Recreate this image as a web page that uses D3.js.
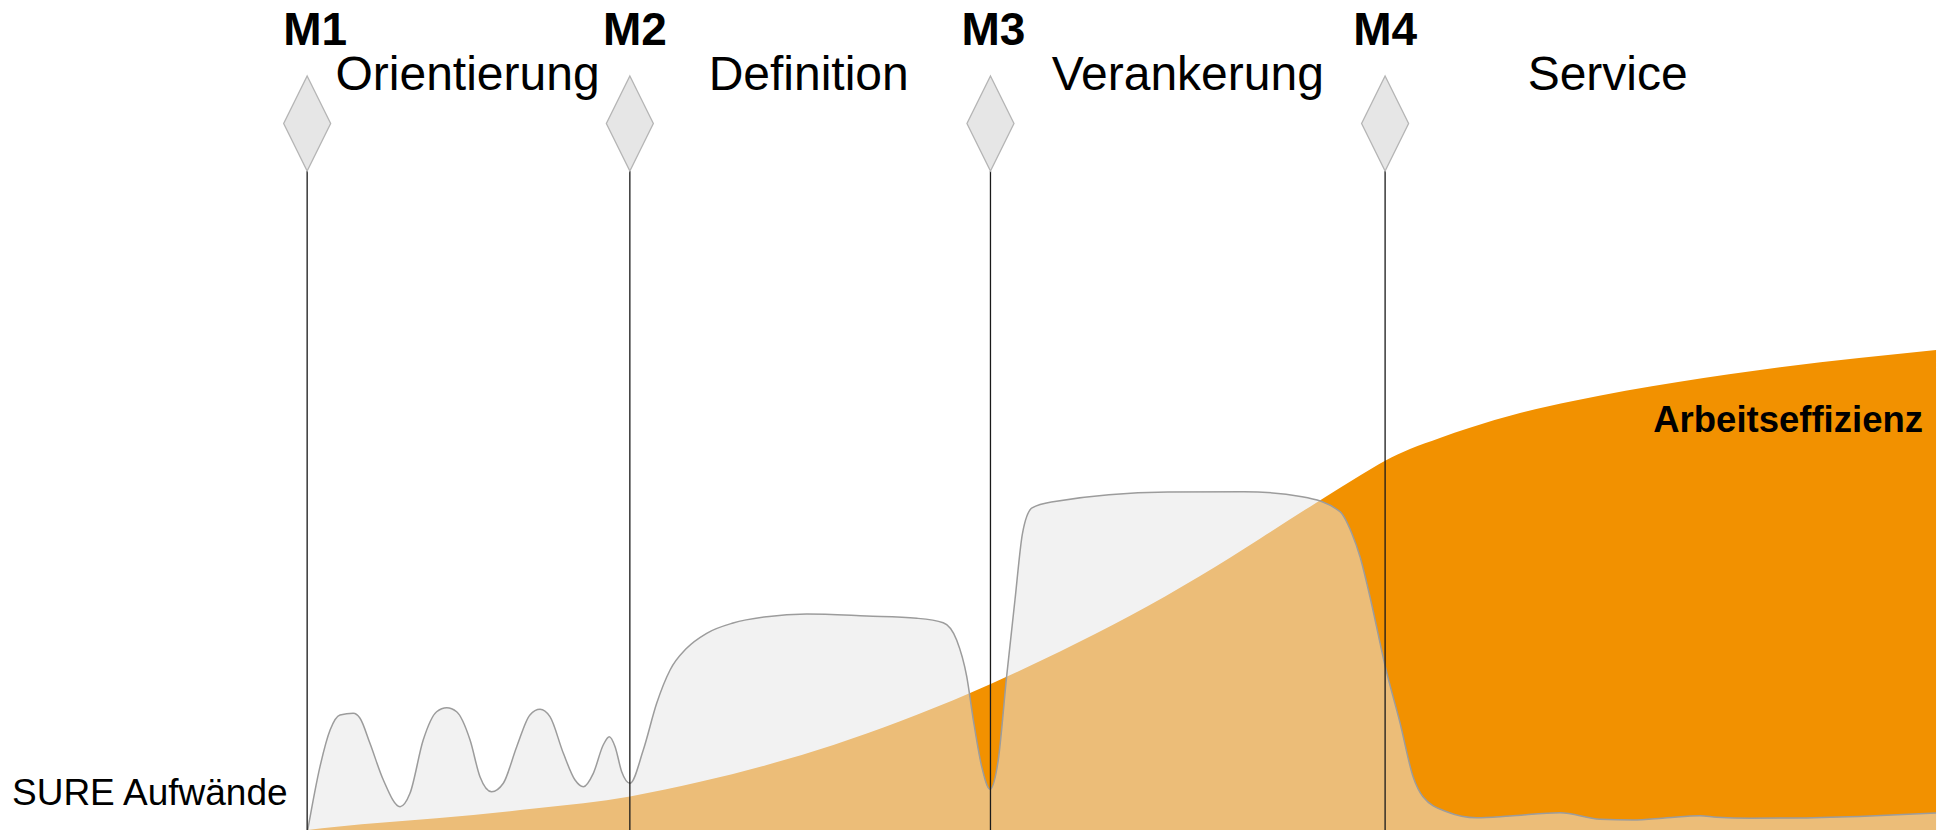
<!DOCTYPE html>
<html>
<head>
<meta charset="utf-8">
<script src="https://cdn.jsdelivr.net/npm/d3@7/dist/d3.min.js"></script>
<style>
  html, body { margin: 0; padding: 0; background: #ffffff; }
  svg { display: block; }
  text { font-family: "Liberation Sans", Arial, Helvetica, sans-serif; }
</style>
</head>
<body>
<svg id="chart" width="1944" height="830"></svg>
<script>
// ---------- DATA ----------
// Milestones (position on timeline, 0..100)
const milestoneNames = ["M1", "M2", "M3", "M4"];
const milestonePos   = [15.8, 32.4, 50.95, 71.25];

// Phases (label and label centre on timeline)
const phaseNames = ["Orientierung", "Definition", "Verankerung", "Service"];
const phaseCenters = [24.05, 41.6, 61.1, 82.7];

// Series 1: Arbeitseffizienz (orange area) [time, level]
const effizienzX = [15.82, 17.32, 22.46, 27.61, 32.41, 36.01, 39.44, 42.87, 46.30, 49.90, 50.96,
  54.53, 58.13, 61.73, 64.81, 67.75, 69.96, 71.25, 72.53, 74.07, 75.57, 78.19, 80.92, 86.32, 91.67, 99.59];
const effizienzY = [0, 0.40, 1.41, 2.61, 4.04, 5.80, 7.84, 10.25, 13.1, 16.5, 17.6,
  21.5, 25.8, 30.6, 35.1, 39.5, 42.7, 44.5, 45.9, 47.23, 48.43, 50.24, 51.69, 53.98, 55.78, 57.83];

// Series 2: SURE Aufwände (grey area) [time, level]
const aufwandX = [15.83, 16.46, 16.98, 17.49, 18.17, 18.52, 19.03, 19.72, 20.58, 21.09, 21.77, 22.46, 22.98,
  23.49, 24.18, 24.69, 25.29, 25.89, 26.58, 27.26, 27.78, 28.29, 28.98, 29.58, 30.01, 30.52, 31.03, 31.34,
  31.64, 31.98, 32.41, 33.09, 33.78, 34.47, 35.32, 36.35, 37.71, 39.44, 41.50, 44.58, 47.16, 48.52, 49.21,
  49.73, 50.07, 50.50, 50.93, 51.35, 51.78, 52.21, 52.60, 53.09, 54.17, 60.08, 63.99, 66.98, 68.93, 69.53,
  69.96, 70.51, 71.26, 72.02, 72.69, 73.20, 74.42, 75.96, 77.67, 80.25, 82.30, 84.00, 85.75, 87.45, 88.31,
  90.02, 92.59, 96.19, 99.59];
const aufwandY = [0, 7.63, 12.05, 13.86, 14.06, 13.46, 10.45, 6.02, 2.81, 4.42, 10.84, 14.25, 14.73,
  14.25, 10.84, 6.42, 4.61, 5.63, 10.04, 13.86, 14.54, 13.65, 9.24, 6.02, 5.22, 6.83, 10.24, 11.24,
  10.04, 7.02, 5.63, 9.64, 15.27, 19.28, 21.89, 23.70, 24.94, 25.70, 26.02, 25.78, 25.51, 24.98, 22.89,
  18.47, 13.25, 7.63, 4.90, 8.43, 18.47, 27.71, 35.78, 38.80, 39.55, 40.72, 40.76, 40.16, 38.35, 35.78,
  32.93, 27.71, 19.67, 12.89, 6.42, 4.01, 2.20, 1.48, 1.69, 2.08, 1.29, 1.20, 1.48, 1.72, 1.53,
  1.41, 1.45, 1.69, 2.05];

const seriesLabels = ["SURE Aufwände", "Arbeitseffizienz"];

// ---------- CHART ----------
const W = 1944, H = 830;
const svg = d3.select("#chart");

const x = d3.scaleLinear().domain([0, 100]).range([0, W]);
const y = d3.scaleLinear().domain([0, 100]).range([H, 0]);

const effData = effizienzX.map((v, i) => [v, effizienzY[i]]);
const aufData = aufwandX.map((v, i) => [v, aufwandY[i]]);

const area = d3.area()
  .x(d => x(d[0])).y0(y(0)).y1(d => y(d[1]))
  .curve(d3.curveMonotoneX);
const line = d3.line()
  .x(d => x(d[0])).y(d => y(d[1]))
  .curve(d3.curveMonotoneX);

// Orange area
svg.append("path").datum(effData)
  .attr("d", area)
  .attr("fill", "#F29100");

// Grey area (semi-transparent)
svg.append("path").datum(aufData)
  .attr("d", area)
  .attr("fill", "rgb(230,230,230)")
  .attr("fill-opacity", 0.52);

svg.append("path").datum(aufData)
  .attr("d", line)
  .attr("fill", "none")
  .attr("stroke", "#9c9c9c")
  .attr("stroke-width", 1.5);

// Milestones
const diamondTop = 76, diamondMid = 123.5, diamondBot = 171, diamondHalfW = 23.5;
const labelShift = [8, 5, 3, 0];
const ms = svg.append("g");
milestonePos.forEach((p, i) => {
  const cx = x(p);
  ms.append("line")
    .attr("x1", cx).attr("x2", cx)
    .attr("y1", diamondBot).attr("y2", H)
    .attr("stroke", "#1a1a1a").attr("stroke-width", 1.3);
  ms.append("path")
    .attr("d", `M${cx},${diamondTop} L${cx + diamondHalfW},${diamondMid} L${cx},${diamondBot} L${cx - diamondHalfW},${diamondMid} Z`)
    .attr("fill", "#E6E6E6").attr("stroke", "#B5B5B5").attr("stroke-width", 1.3);
  ms.append("text")
    .attr("x", cx + labelShift[i]).attr("y", 45)
    .attr("text-anchor", "middle")
    .attr("font-size", 46).attr("font-weight", "bold")
    .attr("fill", "#000")
    .text(milestoneNames[i]);
});

// Phase labels
phaseNames.forEach((n, i) => {
  svg.append("text")
    .attr("x", x(phaseCenters[i])).attr("y", 90)
    .attr("text-anchor", "middle")
    .attr("font-size", 48)
    .attr("fill", "#000")
    .text(n);
});

// Series labels
svg.append("text")
  .attr("x", 12).attr("y", 805)
  .attr("font-size", 37).attr("fill", "#000")
  .text(seriesLabels[0]);

svg.append("text")
  .attr("x", 1923).attr("y", 432)
  .attr("text-anchor", "end")
  .attr("font-size", 36.5).attr("font-weight", "bold")
  .attr("fill", "#000")
  .text(seriesLabels[1]);
</script>
</body>
</html>
